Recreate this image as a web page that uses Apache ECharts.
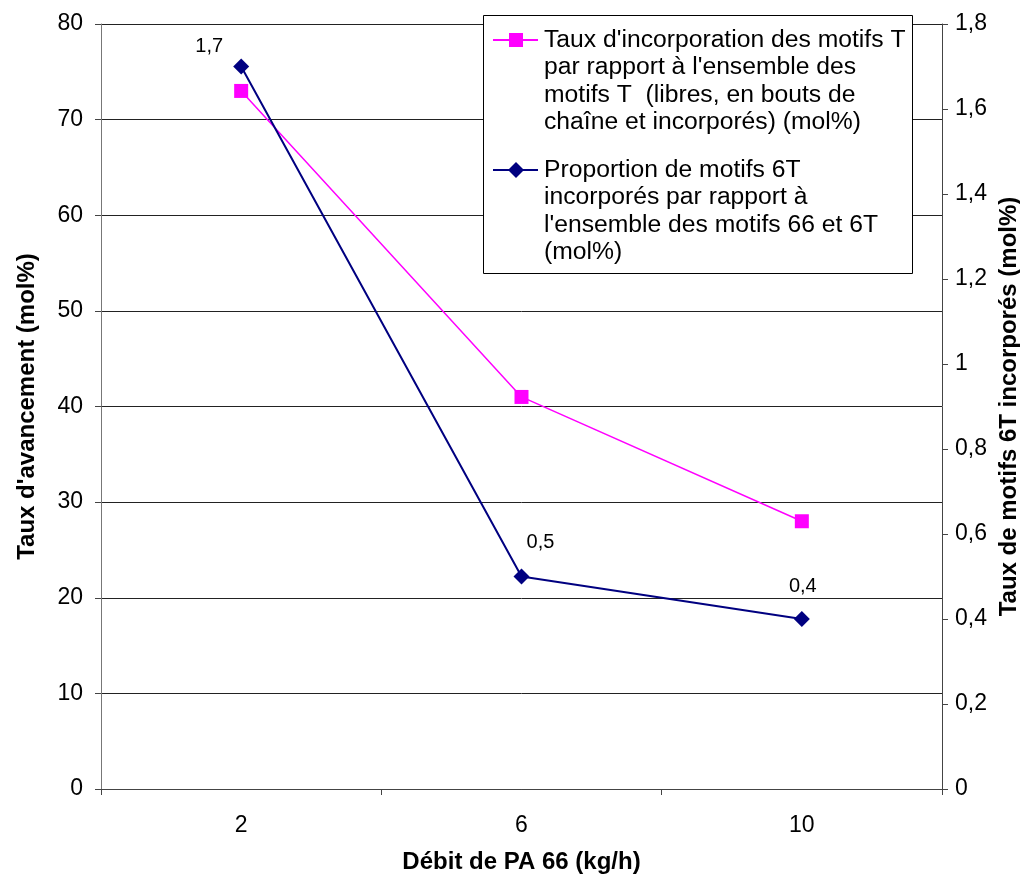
<!DOCTYPE html>
<html>
<head>
<meta charset="utf-8">
<script src="https://cdn.jsdelivr.net/npm/echarts@6/dist/echarts.min.js"></script>
<style>
html,body{margin:0;padding:0;background:#fff;}
#chart{width:1020px;height:876px;}
</style>
</head>
<body>
<div id="chart"></div>
<script>
const categories = ['2', '6', '10'];
const tauxIncorporation = [73, 41, 28];
const proportion6T = [1.7, 0.5, 0.4];
const leftTicks = { min: 0, max: 80, interval: 10 };
const rightTicks = { min: 0, max: 1.8, interval: 0.2 };

const legendLines1 = ["Taux d'incorporation des motifs T", "par rapport à l'ensemble des", "motifs T  (libres, en bouts de", "chaîne et incorporés) (mol%)"];
const legendLines2 = ["Proportion de motifs 6T", "incorporés par rapport à", "l'ensemble des motifs 66 et 6T", "(mol%)"];

const FONT = '"Liberation Sans", Arial, sans-serif';
const PINK = '#FF00FF';
const NAVY = '#000080';
const comma = v => String(Math.round(v * 100) / 100).replace('.', ',');

const labelOffsets = [[-32, -20], [19, -34], [1, -33]];

const chart = echarts.init(document.getElementById('chart'), null, { renderer: 'canvas' });

function legendEntry(y, color, symbol, lines) {
  const items = [
    { type: 'line', shape: { x1: 493, y1: y, x2: 538, y2: y }, style: { stroke: color, lineWidth: 2 }, z: 101 },
    { type: 'text', x: 544, y: y - 13.75, style: { text: lines.join('\n'), font: '24.7px ' + FONT, fill: '#000', lineHeight: 27.5, verticalAlign: 'top', align: 'left' }, z: 101 }
  ];
  if (symbol === 'rect') {
    items.push({ type: 'rect', shape: { x: 516 - 7, y: y - 7, width: 14, height: 14 }, style: { fill: color }, z: 102 });
  } else {
    items.push({ type: 'polygon', shape: { points: [[516, y - 8], [524, y], [516, y + 8], [508, y]] }, style: { fill: color }, z: 102 });
  }
  return items;
}

const option = {
  backgroundColor: '#fff',
  animation: false,
  grid: { left: 101, right: 78, top: 24, bottom: 87, containLabel: false, outerBoundsMode: 'none' },
  xAxis: {
    type: 'category',
    data: categories,
    boundaryGap: true,
    name: 'Débit de PA 66 (kg/h)',
    nameLocation: 'middle',
    nameGap: 61,
    nameTextStyle: { fontFamily: FONT, fontSize: 24, fontWeight: 'bold', color: '#000' },
    axisLine: { show: true, lineStyle: { color: '#444', width: 1 } },
    axisTick: { show: true, length: 6, lineStyle: { color: '#444' } },
    axisLabel: { fontFamily: FONT, fontSize: 23, color: '#000', margin: 25 },
    splitLine: { show: false }
  },
  yAxis: [
    {
      type: 'value',
      position: 'left',
      min: leftTicks.min, max: leftTicks.max, interval: leftTicks.interval,
      name: "Taux d'avancement (mol%)",
      nameLocation: 'middle',
      nameRotate: 90,
      nameGap: 62,
      nameTextStyle: { fontFamily: FONT, fontSize: 24, fontWeight: 'bold', color: '#000' },
      axisLine: { show: true, lineStyle: { color: '#777', width: 1 } },
      axisTick: { show: true, length: 6, lineStyle: { color: '#444' } },
      axisLabel: { fontFamily: FONT, fontSize: 23, color: '#000', margin: 18 },
      splitLine: { show: true, lineStyle: { color: '#222', width: 1 } }
    },
    {
      type: 'value',
      position: 'right',
      min: rightTicks.min, max: rightTicks.max, interval: rightTicks.interval,
      name: 'Taux de motifs 6T incorporés (mol%)',
      nameLocation: 'middle',
      nameRotate: 90,
      nameGap: 48,
      nameTextStyle: { fontFamily: FONT, fontSize: 24, fontWeight: 'bold', color: '#000' },
      axisLine: { show: true, lineStyle: { color: '#444', width: 1 } },
      axisTick: { show: true, length: 6, lineStyle: { color: '#444' } },
      axisLabel: { fontFamily: FONT, fontSize: 23, color: '#000', margin: 13, formatter: comma },
      splitLine: { show: false }
    }
  ],
  series: [
    {
      name: legendLines1.join(' '),
      type: 'line',
      yAxisIndex: 0,
      data: tauxIncorporation,
      symbol: 'rect',
      symbolSize: 14,
      itemStyle: { color: PINK },
      lineStyle: { color: PINK, width: 1.5 },
      z: 3
    },
    {
      name: legendLines2.join(' '),
      type: 'line',
      yAxisIndex: 1,
      data: proportion6T.map((v, i) => ({
        value: v,
        label: { offset: labelOffsets[i] }
      })),
      symbol: 'diamond',
      symbolSize: 16,
      itemStyle: { color: NAVY },
      lineStyle: { color: NAVY, width: 2 },
      label: {
        show: true,
        position: 'inside',
        fontFamily: FONT,
        fontSize: 20,
        color: '#000',
        formatter: p => comma(p.value)
      },
      z: 4
    }
  ],
  graphic: [
    { type: 'rect', shape: { x: 483.5, y: 15.5, width: 429, height: 258 }, style: { fill: '#fff', stroke: '#000', lineWidth: 1 }, z: 100 },
    ...legendEntry(40, PINK, 'rect', legendLines1),
    ...legendEntry(170, NAVY, 'diamond', legendLines2)
  ]
};

chart.setOption(option);
</script>
</body>
</html>
